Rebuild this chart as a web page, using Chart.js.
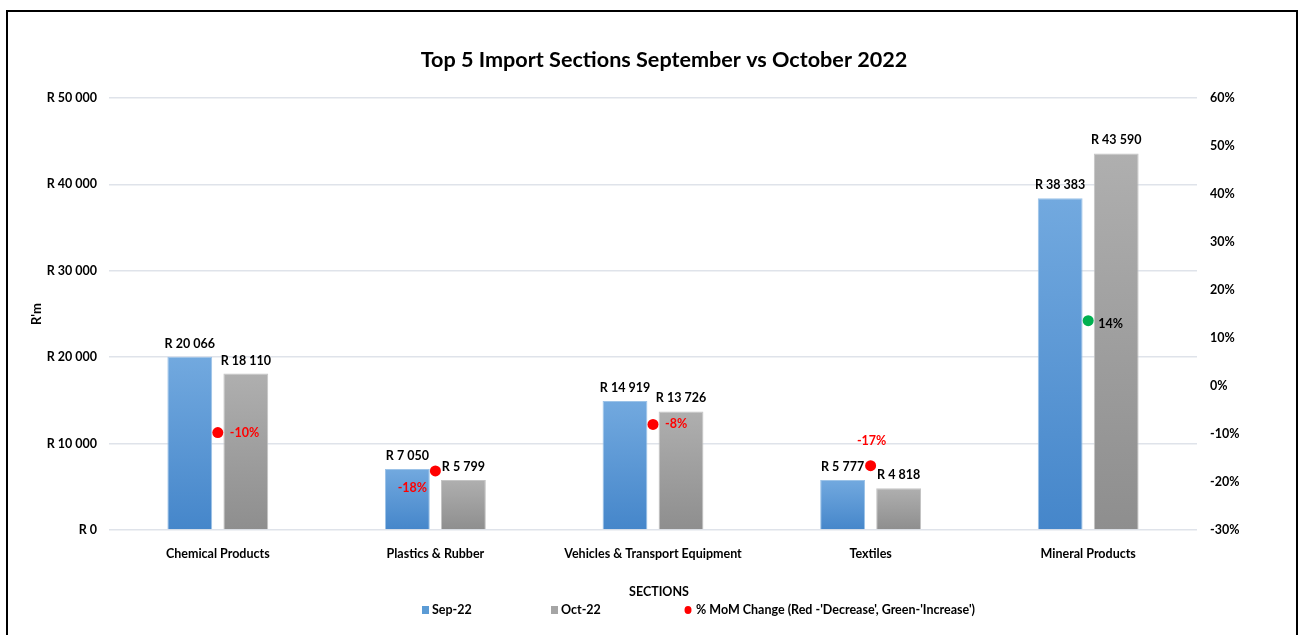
<!DOCTYPE html>
<html><head><meta charset="utf-8">
<script src="https://cdn.jsdelivr.net/npm/chart.js@4.4.0/dist/chart.umd.min.js"></script>
<style>
html,body{margin:0;padding:0;background:#fff;}
#wrap{position:relative;width:1303px;height:635px;overflow:hidden;}
#frame{position:absolute;left:6px;top:10px;width:1292px;height:640px;border:2px solid #000;box-sizing:border-box;pointer-events:none;}
canvas{position:absolute;left:0;top:0;}
</style></head>
<body><div id="wrap"><canvas id="c" width="1303" height="635"></canvas><div id="frame"></div></div>
<script>
const categories = ['Chemical Products','Plastics & Rubber','Vehicles & Transport Equipment','Textiles','Mineral Products'];
const sep22 = [20066, 7050, 14919, 5777, 38383];
const oct22 = [18110, 5799, 13726, 4818, 43590];
const momChange = [-9.7, -17.7, -8.0, -16.6, 13.6];
const momLabels = ['-10%','-18%','-8%','-17%','14%'];
const leftTickValues = [0,10000,20000,30000,40000,50000];
const rightTickValues = [-30,-20,-10,0,10,20,30,40,50,60];
const seriesNames = ['Sep-22','Oct-22',"% MoM Change (Red -'Decrease', Green-'Increase')"];

const FONT = "Lato,'Liberation Sans',sans-serif";
const RED = '#FF0000', GREEN = '#00B050';

function fmtR(v){ return 'R ' + String(v).replace(/\B(?=(\d{3})+(?!\d))/g,' '); }

function barGrad(top, bottom){
  return function(context){
    const chart = context.chart;
    const sc = chart.scales && chart.scales.y;
    if(!sc || context.type !== 'data') return top;
    const v = context.raw;
    const y0 = sc.getPixelForValue(v), y1 = sc.getPixelForValue(0);
    if(!isFinite(y0) || !isFinite(y1) || y0 === y1) return top;
    const g = chart.ctx.createLinearGradient(0, y0, 0, y1);
    g.addColorStop(0, top); g.addColorStop(1, bottom);
    return g;
  };
}

const labelOffsets = [[12,0,'left'],[-23,17,'center'],[12,0,'left'],[1,-25,'center'],[10,3,'left']];

const decor = {
  id:'decor',
  afterDraw(chart){
    const c = chart.ctx;
    c.save();
    c.fillStyle = '#000';
    c.textBaseline = 'middle';
    c.font = 'bold 21.6px ' + FONT;
    c.textAlign = 'center';
    c.fillText('Top 5 Import Sections September vs October 2022', 664, 60);
    c.save();
    c.translate(37, 314);
    c.rotate(-Math.PI/2);
    c.font = 'bold 13px ' + FONT;
    c.fillText("R'm", 0, 0);
    c.restore();
    c.font = 'bold 12.5px ' + FONT;
    c.fillText('SECTIONS', 659, 592);
    c.textAlign = 'left';
    const ly = 610;
    c.fillStyle = '#5B9BD5'; c.fillRect(422, ly-4, 7, 8);
    c.fillStyle = '#000'; c.fillText(seriesNames[0], 432, ly);
    c.fillStyle = '#A5A5A5'; c.fillRect(551, ly-4, 7, 8);
    c.fillStyle = '#000'; c.fillText(seriesNames[1], 561, ly);
    c.fillStyle = RED; c.beginPath(); c.ellipse(688, ly, 3.5, 4, 0, 0, Math.PI*2); c.fill();
    c.fillStyle = '#000'; c.fillText(seriesNames[2], 696, ly);
    c.restore();
  },
  afterDatasetsDraw(chart){
    const c = chart.ctx;
    c.save();
    c.textBaseline = 'middle';
    c.font = 'bold 12.5px ' + FONT;
    [0,1].forEach(di=>{
      const meta = chart.getDatasetMeta(di);
      const data = chart.data.datasets[di].data;
      meta.data.forEach((el,i)=>{
        c.fillStyle = '#000'; c.textAlign = 'center';
        c.fillText(fmtR(data[i]), el.x, el.y - 13);
      });
    });
    const pm = chart.getDatasetMeta(2);
    pm.data.forEach((el,i)=>{
      const o = labelOffsets[i];
      c.fillStyle = momChange[i] < 0 ? RED : '#000';
      c.textAlign = o[2];
      c.fillText(momLabels[i], el.x + o[0], el.y + o[1]);
    });
    c.restore();
  }
};

new Chart(document.getElementById('c'), {
  data:{
    labels: categories,
    datasets:[
      {type:'bar', label:seriesNames[0], data:sep22, yAxisID:'y', order:2,
       backgroundColor: barGrad('#72A9DF','#4586CA'), borderColor:'#9CC3E8', borderWidth:1,
       categoryPercentage:0.515, barPercentage:0.8},
      {type:'bar', label:seriesNames[1], data:oct22, yAxisID:'y', order:2,
       backgroundColor: barGrad('#AFAFAF','#8E8E8E'), borderColor:'#C4C4C4', borderWidth:1,
       categoryPercentage:0.515, barPercentage:0.8},
      {type:'line', label:seriesNames[2], data:momChange, yAxisID:'y1', order:0, showLine:false,
       pointRadius:5.5, pointHoverRadius:5.5, pointBorderWidth:0,
       pointBackgroundColor: momChange.map(v=>v<0?RED:GREEN),
       pointBorderColor: momChange.map(v=>v<0?RED:GREEN)}
    ]
  },
  options:{
    responsive:false, animation:false, devicePixelRatio:1,
    layout:{padding:{top:98,left:0,right:0,bottom:0}},
    plugins:{legend:{display:false}, title:{display:false}, tooltip:{enabled:false}},
    scales:{
      x:{type:'category', offset:true,
         grid:{display:false, drawTicks:false}, border:{display:false},
         ticks:{padding:16, color:'#000', font:{family:FONT, size:12.5, weight:'bold'}, maxRotation:0, autoSkip:false},
         afterFit(s){ s.height = 105; }},
      y:{position:'left', min:0, max:50000,
         afterBuildTicks(s){ s.ticks = leftTickValues.map(v=>({value:v})); },
         ticks:{padding:12, color:'#000', font:{family:FONT, size:12.5, weight:'bold'}, callback:v=>fmtR(v)},
         grid:{color:'#DFE3EA', lineWidth:1.5, drawTicks:false}, border:{display:false},
         afterFit(s){ s.width = 109; }},
      y1:{position:'right', min:-30, max:60,
         afterBuildTicks(s){ s.ticks = rightTickValues.map(v=>({value:v})); },
         ticks:{padding:13, color:'#000', font:{family:FONT, size:12.5, weight:'bold'}, callback:v=>v+'%'},
         grid:{display:false, drawTicks:false}, border:{display:false},
         afterFit(s){ s.width = 106; }}
    }
  },
  plugins:[decor]
});
</script>
</body></html>
